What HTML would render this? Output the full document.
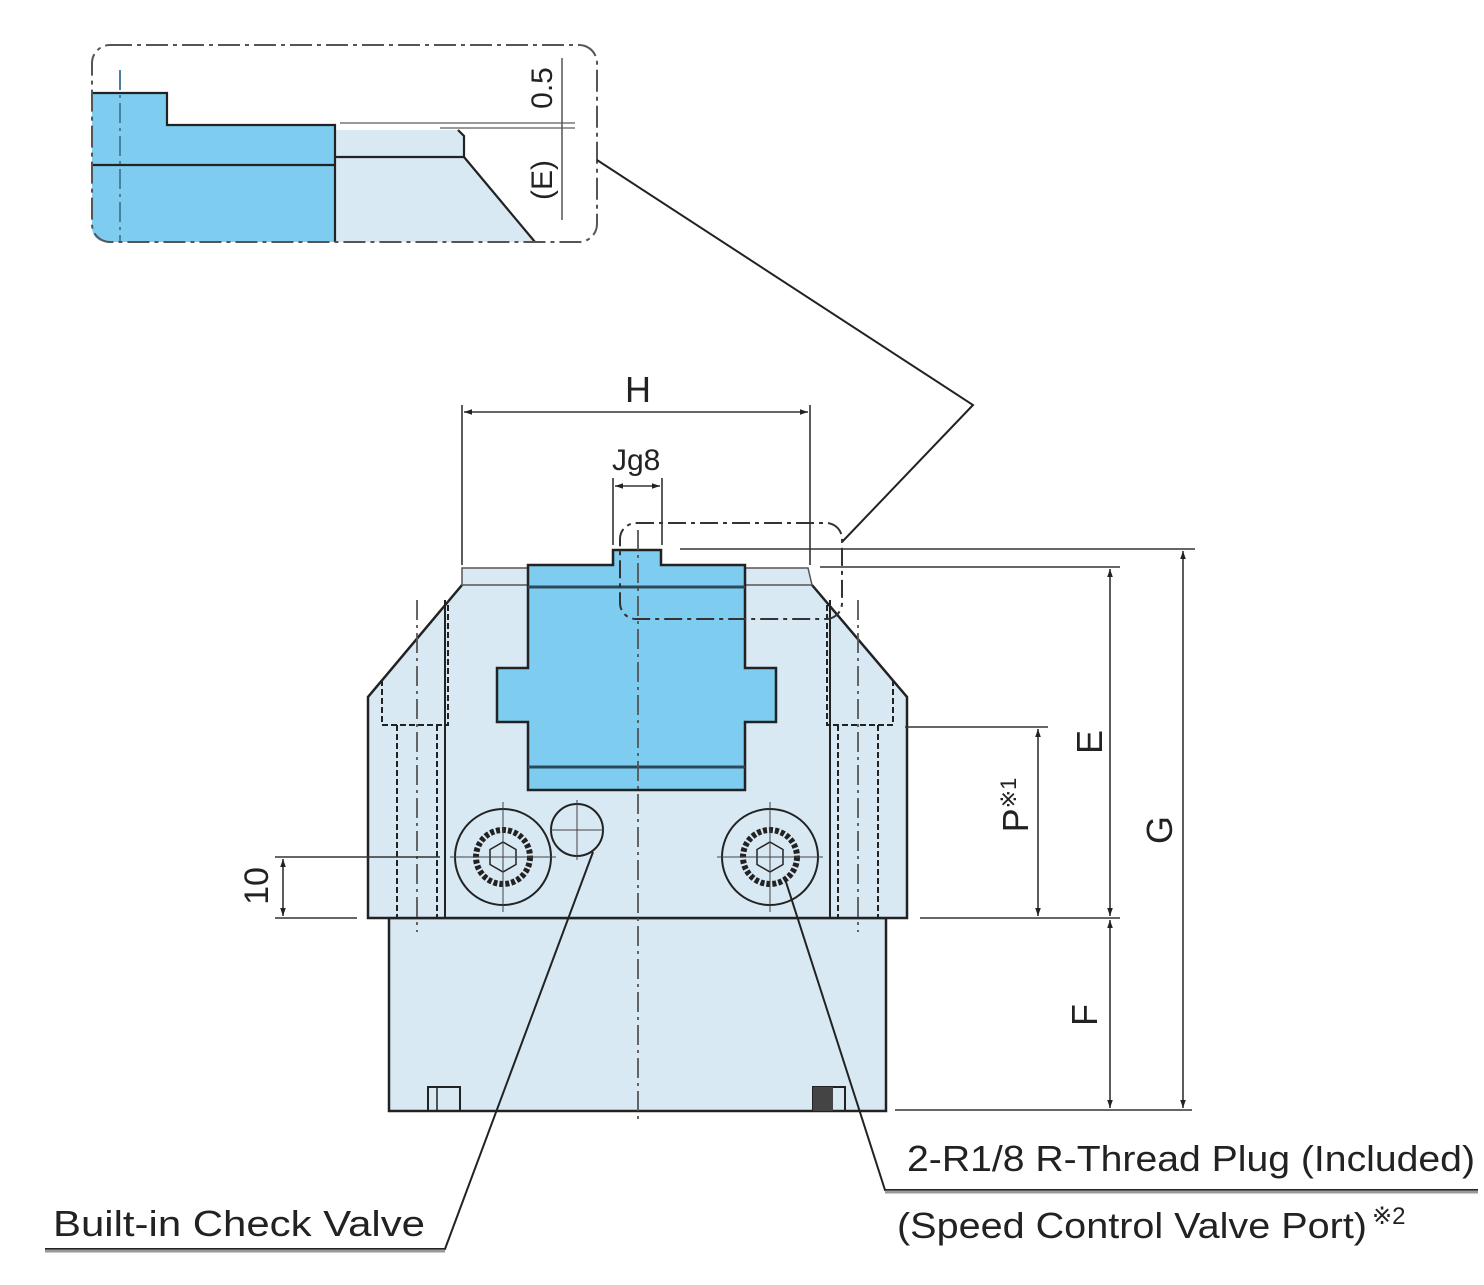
<!DOCTYPE html>
<html><head><meta charset="utf-8"><style>
html,body{margin:0;padding:0;background:#fff;}
svg{display:block}
text{font-family:"Liberation Sans",sans-serif;fill:#222}
</style></head><body>
<svg width="1484" height="1285" viewBox="0 0 1484 1285" xmlns="http://www.w3.org/2000/svg">
<defs>
<marker id="a" viewBox="0 0 10 10" refX="10" refY="5" markerWidth="10" markerHeight="8" orient="auto-start-reverse" markerUnits="userSpaceOnUse"><path d="M0,1.5 L10,5 L0,8.5 z" fill="#222"/></marker>
</defs>
<g stroke="#222" fill="none">
<!-- DETAIL BOX -->
<path d="M92,93 H167 V125 H335 V242 H108 Q92,242 92,226 Z" fill="#7ecdf1" stroke="none"/>
<path d="M335,130 H458 L464,136 V157 L535,242 H335 Z" fill="#d8e9f4" stroke="none"/>
<path d="M92,93 H167 V125 H335 V242 M92,165 H335 M335,157 H464 V136 L458,130 M464,157 L535,242" stroke-width="2.2"/>
<line x1="120" y1="70" x2="120" y2="242" stroke="#4a7fa0" stroke-width="2" stroke-dasharray="20,5,3,5"/>
<path d="M340,123 H575 M440,128 H575" stroke="#999" stroke-width="2"/>
<line x1="562" y1="58" x2="562" y2="220" stroke="#555" stroke-width="1.5"/>
<rect x="92" y="45" width="505" height="197" rx="18" stroke="#555" stroke-width="2" stroke-dasharray="22,5,4,5"/>
<polyline points="597,160 973,405 842,542" stroke-width="2"/>

<!-- MAIN BODY -->
<rect x="389" y="918" width="497" height="193" fill="#d8e9f4" stroke-width="2.5"/>
<path d="M462,568 H808 L812,585 L907,697 V918 H368 V697 L462,585 Z" fill="#d8e9f4" stroke="none"/>
<path d="M462,585 L368,697 V918 H907 V697 L812,585" stroke-width="2.5"/>
<path d="M462,585 V568 H808 L812,585 Z" fill="#d8e9f4" stroke="#555" stroke-width="1.5"/>
<path d="M613,550 H661 V565 H745 V668 H776 V722 H745 V790 H528 V722 H497 V668 H528 V565 H613 Z" fill="#7ecdf1" stroke-width="2.5"/>
<path d="M528,587 H745 M528,767 H745" stroke="#2a4a5a" stroke-width="3"/>
<g stroke-width="2" stroke-dasharray="6,3">
<path d="M382,680 V725 H448 V605"/>
<path d="M397,725 V918 M437,725 V918"/>
<path d="M893,680 V725 H827 V605"/>
<path d="M878,725 V918 M838,725 V918"/>
</g>
<path d="M445,600 V918 M830,600 V918" stroke-width="2"/>
<g stroke="#555" stroke-width="1.8" stroke-dasharray="20,5,3,5">
<line x1="417" y1="600" x2="417" y2="932"/>
<line x1="858" y1="600" x2="858" y2="932"/>
<line x1="638" y1="530" x2="638" y2="1120"/>
</g>
<g stroke-width="2">
<circle cx="503" cy="857" r="48"/>
<circle cx="503" cy="857" r="27" stroke-width="6" stroke-dasharray="4,2"/>
<polygon points="503,842 516,849.5 516,864.5 503,872 490,864.5 490,849.5" stroke-width="1.5"/>
<circle cx="770" cy="857" r="48"/>
<circle cx="770" cy="857" r="27" stroke-width="6" stroke-dasharray="4,2"/>
<polygon points="770,842 783,849.5 783,864.5 770,872 757,864.5 757,849.5" stroke-width="1.5"/>
<circle cx="577" cy="830" r="26"/>
</g>
<g stroke-width="1" stroke="#444">
<path d="M450,857 H556 M503,802 V912 M717,857 H823 M770,802 V912 M550,830 H604 M577,800 V860"/>
</g>
<rect x="428" y="1087" width="32" height="24" stroke-width="2"/>
<line x1="437" y1="1087" x2="437" y2="1111" stroke-width="1.5"/>
<rect x="813" y="1087" width="32" height="24" stroke-width="2"/>
<rect x="813" y="1087" width="20" height="24" fill="#444" stroke="none"/>
<rect x="620" y="523" width="222" height="96" rx="16" stroke="#333" stroke-width="2" stroke-dasharray="18,5,4,5"/>

<!-- DIMENSIONS -->
<g stroke="#333" stroke-width="1.6">
<path d="M462,405 V565 M810,405 V565"/>
<line x1="464" y1="412" x2="808" y2="412" marker-start="url(#a)" marker-end="url(#a)"/>
<path d="M613,478 V545 M662,478 V545"/>
<line x1="615" y1="486" x2="660" y2="486" marker-start="url(#a)" marker-end="url(#a)"/>
<path d="M680,549 H1195 M820,567 H1120 M905,727 H1048 M920,918 H1120 M895,1110 H1192"/>
<line x1="1038" y1="729" x2="1038" y2="916" marker-start="url(#a)" marker-end="url(#a)"/>
<line x1="1110" y1="569" x2="1110" y2="916" marker-start="url(#a)" marker-end="url(#a)"/>
<line x1="1110" y1="920" x2="1110" y2="1108" marker-start="url(#a)" marker-end="url(#a)"/>
<line x1="1183" y1="551" x2="1183" y2="1108" marker-start="url(#a)" marker-end="url(#a)"/>
<path d="M275,857 H440 M275,918 H357"/>
<line x1="283" y1="859" x2="283" y2="916" marker-start="url(#a)" marker-end="url(#a)"/>
</g>
<g stroke="#222" stroke-width="2">
<polyline points="593,852 445,1249 45,1249"/>
<polyline points="786,882 885,1190 1478,1190"/>
</g>
<path d="M45,1251 H445 M885,1192 H1478" stroke="#999" stroke-width="3"/>
</g>

<g font-size="36">
<text x="638" y="402" text-anchor="middle">H</text>
<text x="612" y="470" font-size="30">Jg8</text>
<text transform="translate(1102,742) rotate(-90)" text-anchor="middle">E</text>
<text transform="translate(1097,1015) rotate(-90)" text-anchor="middle">F</text>
<text transform="translate(1172,830) rotate(-90)" text-anchor="middle">G</text>
<text transform="translate(1028,805) rotate(-90)" text-anchor="middle">P<tspan font-size="22" dy="-12">※1</tspan></text>
<text transform="translate(268,886) rotate(-90)" text-anchor="middle" font-size="34">10</text>
<text transform="translate(552,88) rotate(-90)" text-anchor="middle" font-size="30">0.5</text>
<text transform="translate(552,180) rotate(-90)" text-anchor="middle" font-size="30">(E)</text>
<text x="53" y="1236" textLength="372" lengthAdjust="spacingAndGlyphs">Built-in Check Valve</text>
<text x="907" y="1171" textLength="568" lengthAdjust="spacingAndGlyphs">2-R1/8 R-Thread Plug (Included)</text>
<text x="897" y="1238" textLength="470" lengthAdjust="spacingAndGlyphs">(Speed Control Valve Port)</text>
<text x="1372" y="1224" font-size="24">※2</text>
</g>
</svg>
</body></html>
